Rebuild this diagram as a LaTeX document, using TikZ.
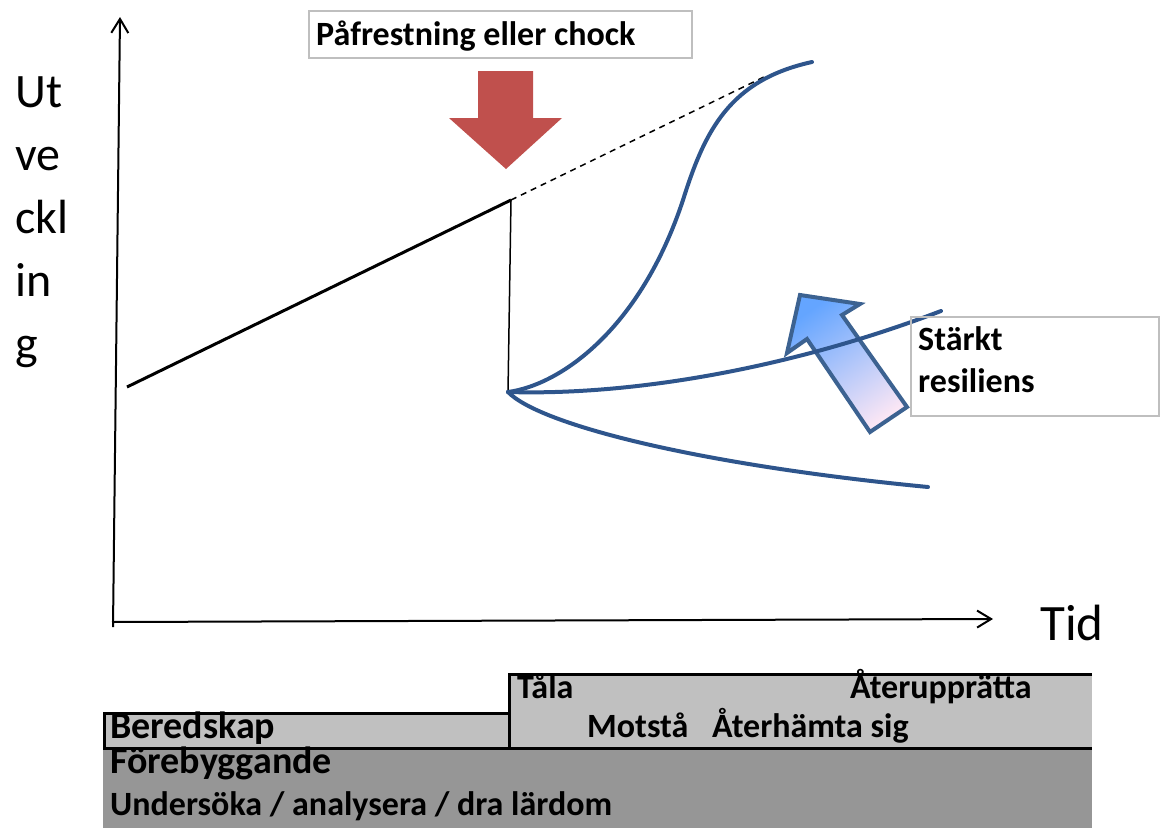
\documentclass[tikz,border=0pt]{standalone}
\usepackage{fontspec}
\setmainfont{Carlito}
\usetikzlibrary{arrows.meta}

\definecolor{chockred}{RGB}{192,80,77}
\definecolor{kurvblue}{RGB}{46,85,140}
\definecolor{pilkant}{RGB}{60,98,145}
\definecolor{piltopp}{RGB}{100,165,255}
\definecolor{pilbotten}{RGB}{250,230,245}
\definecolor{ljusgra}{RGB}{192,192,192}
\definecolor{morkgra}{RGB}{150,150,150}

\tikzset{
    axel/.style={line width=2pt, -{Straight Barb[length=14pt,width=17pt]}},
    kurva/.style={kurvblue, line width=4pt, line cap=round},
    ruta/.style={draw=black!25, line width=1.5pt},
    rubrik/.style={font=\fontsize{34}{40}\selectfont\bfseries, anchor=base west, inner sep=0pt},
    stor/.style={font=\fontsize{38}{44}\selectfont\bfseries, anchor=base west, inner sep=0pt}
}

\begin{document}
\begin{tikzpicture}[x=1pt,y=-1pt]
    \useasboundingbox (0,0) rectangle (1168,828);

    \coordinate (origo) at (112,622);
    \coordinate (ytopp) at (120,17);
    \coordinate (xslut) at (993,619);
    \draw[axel] (113,627) -- (ytopp);
    \draw[axel] (origo) -- (xslut);

    \foreach \t [count=\i] in {Ut,ve,ckl,in,g}
        \node[anchor=base west, inner sep=0pt, font=\fontsize{48}{56}\selectfont] (ylab\i) at (15,{44+63*\i}) {\t};
    \node[anchor=base west, inner sep=0pt, font=\fontsize{51}{60}\selectfont] (tid) at (1040,640) {Tid};

    \coordinate (start) at (127,387);
    \coordinate (brott) at (511,200);
    \coordinate (botten) at (508,392);
    \coordinate (trend) at (768,75);
    \draw[line width=3pt] (start) -- (brott);
    \draw[line width=1.5pt, dash pattern=on 6pt off 5pt] (brott) -- (trend);
    \draw[line width=1.5pt] (brott) -- (botten);

    \fill[chockred] (478,71) -- (533,71) -- (533,118) -- (562,118) -- (506,169) -- (449,118) -- (478,118) -- cycle;

    \draw[pilkant, line width=4pt, top color=piltopp, bottom color=pilbotten, shading angle=35]
        (800,295) -- (860,304) -- (842,315) -- (907,407) -- (870,432) -- (807,339) -- (787,353) -- cycle;

    \draw[kurva] (botten) .. controls (560,385) and (640,330) .. (683,200)
        .. controls (705,130) and (730,80) .. (812,62);
    \draw[kurva] (botten) .. controls (640,396) and (800,365) .. (941,311);
    \draw[kurva] (botten) .. controls (540,425) and (700,465) .. (928,487);

    \draw[ruta] (309,11) rectangle (692,58);
    \node[rubrik] (chock) at (316,45) {Påfrestning eller chock};

    \draw[ruta] (911,317) rectangle (1159,416);
    \node[rubrik] (starkt) at (918,350) {Stärkt};
    \node[rubrik] (resiliens) at (918,392) {resiliens};

    \fill[morkgra] (103,748) rectangle (1092,828);
    \fill[ljusgra] (509,674) rectangle (1092,748);
    \draw[line width=3pt] (1092,674) -- (509,674) -- (509,748);
    \draw[line width=3pt, fill=ljusgra] (104,713) rectangle (509,748);
    \draw[line width=3pt] (509,748) -- (1092,748);

    \node[rubrik] (tala) at (517,698) {Tåla};
    \node[rubrik] (aterupp) at (850,698) {Återupprätta};
    \node[rubrik] (motsta) at (587,737) {Motstå};
    \node[rubrik] (aterhamta) at (712,737) {Återhämta sig};
    \node[stor] (beredskap) at (110,738) {Beredskap};
    \node[stor] (forebygg) at (110,773) {Förebyggande};
    \node[rubrik] (undersoka) at (110,815) {Undersöka / analysera / dra lärdom};
\end{tikzpicture}
\end{document}
